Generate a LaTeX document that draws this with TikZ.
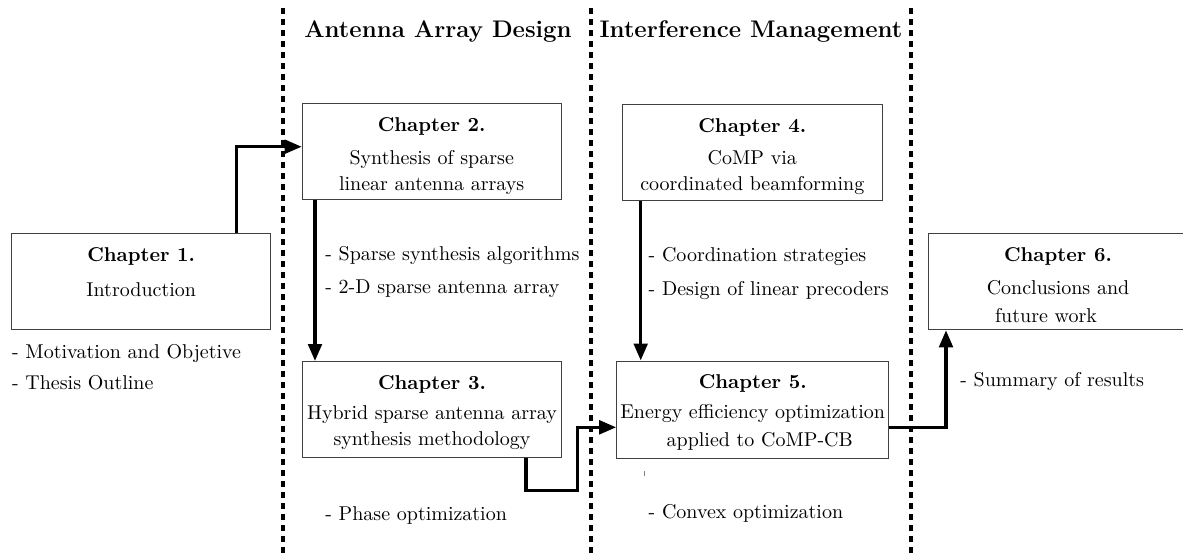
\documentclass[tikz,border=0pt]{standalone}
\usetikzlibrary{arrows.meta}
\begin{document}
\begin{tikzpicture}[x=0.5pt,y=-0.5pt,
  chbox/.style={draw=black!75, line width=0.5pt, minimum width=129.5pt, minimum height=48pt, inner sep=0pt},
  chtext/.style={anchor=north, inner sep=0pt, align=center, font={\fontsize{10}{13}\selectfont}},
  item/.style={anchor=base west, inner sep=0pt, font={\fontsize{10}{12}\selectfont}},
  arr/.style={line width=1.65pt, -{Triangle[length=8.5pt,width=6.8pt]}},
  divider/.style={line width=2pt, dash pattern=on 3pt off 2.5pt},
  heading/.style={anchor=base, inner sep=0pt, font=\large\bfseries}]

\useasboundingbox (0,0) rectangle (1183,554);

% dividers
\coordinate (d1t) at (283,8);  \coordinate (d1b) at (283,554);
\coordinate (d2t) at (591,8);  \coordinate (d2b) at (591,554);
\coordinate (d3t) at (911,8);  \coordinate (d3b) at (911,554);
\draw[divider] (d1t) -- (d1b);
\draw[divider] (d2t) -- (d2b);
\draw[divider] (d3t) -- (d3b);

% headings
\node[heading] (h1) at (438,37) {Antenna Array Design};
\node[heading] (h2) at (751,37) {Interference Management};

% boxes
\node[chbox] (c1) at (141.2,281.3) {};
\node[chbox] (c2) at (431.7,151.7) {};
\node[chbox] (c3) at (432,409.5) {};
\node[chbox, minimum width=129.7pt] (c4) at (752.3,152.7) {};
\node[chbox, minimum width=136pt, minimum height=48.5pt] (c5) at (752.7,409.5) {};
\node[chbox, minimum width=130pt] (c6) at (1058,281.8) {};

% box texts
\node[chtext] (c1t) at ([yshift=-7pt]c1.north) {\textbf{Chapter 1.}\\[4.5pt]Introduction};
\node[chtext] (c2t) at ([yshift=-7pt]c2.north) {\textbf{Chapter 2.}\\[3.5pt]Synthesis of sparse\\linear antenna arrays};
\node[chtext] (c3t) at ([yshift=-7pt]c3.north) {\textbf{Chapter 3.}\\[2pt]Hybrid sparse antenna array\\synthesis methodology};
\node[chtext] (c4t) at ([yshift=-7pt]c4.north) {\textbf{Chapter 4.}\\[3.2pt]CoMP via\\coordinated beamforming};
\node[chtext] (c5t) at ([yshift=-7pt]c5.north) {\textbf{Chapter 5.}\\[2pt]Energy efficiency optimization\\[1pt]\hspace*{7pt}applied to CoMP-CB};
\node[chtext] (c6t) at ([yshift=-7pt]c6.north) {\textbf{Chapter 6.}\\[3.5pt]Conclusions and\\[1pt]future work\hspace*{12pt}};

% bullet texts
\node[item] (b1) at (11.7,358.3) {- Motivation and Objetive};
\node[item] (b2) at (11.7,389.3) {- Thesis Outline};
\node[item] (b3) at (325,260) {- Sparse synthesis algorithms};
\node[item] (b4) at (325,293.5) {- 2-D sparse antenna array};
\node[item] (b5) at (648.3,261.7) {- Coordination strategies};
\node[item] (b6) at (648.3,295) {- Design of linear precoders};
\node[item] (b7) at (325,520) {- Phase optimization};
\node[item] (b8) at (648.3,518.3) {- Convex optimization};
\node[item] (b9) at (960,386.7) {- Summary of results};

% small stray tick
\draw[black!50, line width=0.5pt] (644.3,471) -- (644.3,476);

% connectors
\coordinate (k1) at (236.3,146.7);
\draw[arr] (c1.north -| k1) |- (c2.west |- k1);
\coordinate (k2) at (315,0);
\draw[arr] (c2.south -| k2) -- (c3.north -| k2);
\coordinate (k3) at (526,490.7);
\coordinate (k4) at (577.7,427.3);
\draw[arr] (c3.south -| k3) -- (k3) -| (k4) -- (c5.west |- k4);
\coordinate (k5) at (640.7,0);
\draw[arr] (c4.south -| k5) -- (c5.north -| k5);
\coordinate (k6) at (946,427.3);
\draw[arr] (c5.east |- k6) -| (c6.south -| k6);
\end{tikzpicture}
\end{document}
